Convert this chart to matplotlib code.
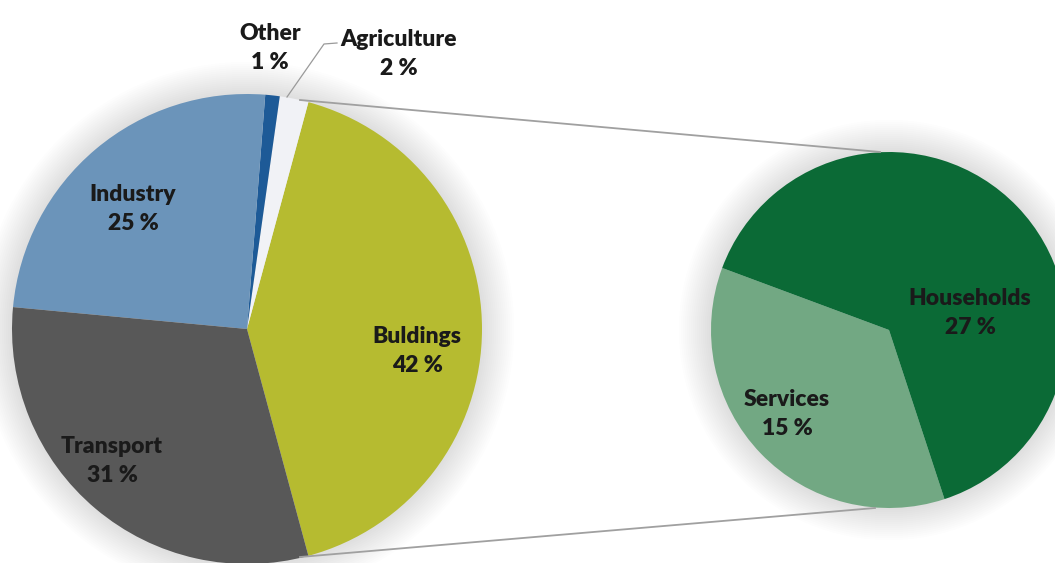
import numpy as np
import matplotlib
matplotlib.use("Agg")
import matplotlib.pyplot as plt
from matplotlib.patches import Circle

# left pie: final energy use by sector (counterclockwise from Buildings)
sectors = ["Buldings", "Agriculture", "Other", "Industry", "Transport"]
shares = [42, 2, 1, 25, 31]
sector_colors = ["#b6bb30", "#f1f2f6", "#1d5a97", "#6b94ba", "#585858"]

# right pie: breakdown of buildings
sub_sectors = ["Services", "Households"]
sub_shares = [15, 27]
sub_colors = ["#72a883", "#0b6a36"]

W, H = 1055, 563
fig = plt.figure(figsize=(W / 100, H / 100), dpi=100)
ax = fig.add_axes([0, 0, 1, 1])

left_c = (247, H - 329)
left_r = 235
right_c = (889, H - 330)
right_r = 178

# soft glow behind the pies
for c, r in [(left_c, left_r), (right_c, right_r)]:
    for k in range(16):
        ax.add_patch(Circle(c, r + 2 + 2 * k, color="#9a9aa8", alpha=0.02, lw=0, zorder=0))

start = -shares[0] / sum(shares) * 180
ax.pie(shares, colors=sector_colors, startangle=start, counterclock=True,
       center=left_c, radius=left_r, wedgeprops=dict(linewidth=0), frame=True)

ax.pie(sub_shares, colors=sub_colors, startangle=159.6, counterclock=True,
       center=right_c, radius=right_r, wedgeprops=dict(linewidth=0), frame=True)

# connector lines between the two pies
ax.plot([300, 880], [H - 100, H - 152], color="#a0a0a0", lw=1.3, zorder=1)
ax.plot([300, 875], [H - 557, H - 508], color="#a0a0a0", lw=1.3, zorder=1)

# leader line for Agriculture
ax.plot([337, 324, 287], [H - 43, H - 44, H - 97], color="#9a9a9a", lw=0.9, zorder=3)

font = dict(family="Lato", weight="heavy", fontsize=16.5, color="#1a1a1a",
            ha="center", va="center", linespacing=1.45, zorder=5)
labels = [
    ("Other\n1 %", 270, 48),
    ("Agriculture\n2 %", 399, 54),
    ("Industry\n25 %", 133, 209),
    ("Buldings\n42 %", 417, 351),
    ("Transport\n31 %", 112, 461),
    ("Services\n15 %", 787, 414),
    ("Households\n27 %", 970, 313),
]
for txt, x, y in labels:
    ax.text(x, H - y, txt, **font)

ax.set_xlim(0, W)
ax.set_ylim(0, H)
ax.set_aspect("equal")
ax.axis("off")

fig.savefig("out.png", dpi=100, facecolor="white")
